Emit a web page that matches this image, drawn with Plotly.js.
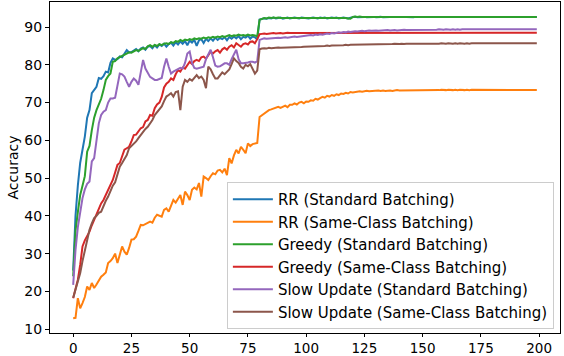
<!DOCTYPE html>
<html>
<head>
<meta charset="utf-8">
<script src="https://cdn.plot.ly/plotly-3.0.1.min.js"></script>
<style>html,body{margin:0;padding:0;background:#fff;}#chart{width:564px;height:356px;}</style>
</head>
<body>
<div id="chart"></div>
<script>
const epochs = Array.from({length: 200}, (_, i) => i);

const seriesNames = [
  "RR (Standard Batching)",
  "RR (Same-Class Batching)",
  "Greedy (Standard Batching)",
  "Greedy (Same-Class Batching)",
  "Slow Update (Standard Batching)",
  "Slow Update (Same-Class Batching)"
];

const rrStandard = [
  25.5,40.0,48.0,54.0,57.5,61.0,66.0,68.0,72.5,73.5,
  74.2,76.5,76.3,77.0,78.2,78.0,80.5,81.7,81.3,81.5,
  82.2,82.0,82.8,83.9,83.3,83.4,83.8,84.2,83.6,84.3,
  84.6,84.0,84.8,85.0,84.4,85.2,84.6,85.4,85.0,85.6,
  84.8,85.5,85.9,85.1,86.0,85.4,86.2,85.6,86.3,85.2,
  86.4,85.9,86.6,85.0,86.5,86.8,85.8,86.9,86.3,87.0,
  86.4,87.2,86.6,87.1,86.8,87.3,86.5,87.4,86.9,87.5,
  87.0,87.6,86.8,87.4,87.2,87.7,86.9,87.5,87.3,86.7,
  92.0,92.2,92.3,92.2,92.4,92.3,92.5,92.3,92.4,92.5,
  92.2,92.4,92.5,92.3,92.4,92.5,92.4,92.3,92.5,92.4,
  92.5,92.3,92.4,92.5,92.4,92.3,92.5,92.4,92.5,92.3,
  92.4,92.5,92.4,92.5,92.3,92.4,92.5,92.4,92.3,92.5,
  92.6,92.7,92.6,92.7,92.6,92.7,92.6,92.7,92.6,92.7,
  92.6,92.7,92.7,92.6,92.7,92.6,92.7,92.7,92.6,92.7,
  92.7,92.6,92.7,92.7,92.6,92.7,92.6,92.7,92.7,92.6,
  92.7,92.7,92.6,92.7,92.6,92.7,92.7,92.6,92.7,92.7,
  92.6,92.7,92.7,92.6,92.7,92.6,92.7,92.7,92.6,92.7,
  92.7,92.6,92.7,92.6,92.7,92.7,92.6,92.7,92.7,92.6,
  92.7,92.6,92.7,92.7,92.6,92.7,92.7,92.6,92.7,92.6,
  92.7,92.7,92.6,92.7,92.6,92.7,92.7,92.6,92.7,92.7
];

const rrSameClass = [
  12.9,13.0,18.2,15.5,16.9,18.5,21.3,20.4,22.2,20.9,
  21.8,23.0,23.9,24.4,25.0,27.5,28.0,28.8,30.0,27.5,
  29.5,31.9,30.5,29.7,31.5,33.7,33.8,34.5,36.0,37.6,
  37.5,37.8,38.0,38.5,38.2,39.5,40.3,40.0,39.8,41.6,
  42.0,41.1,42.5,44.2,43.5,44.7,45.5,42.9,46.4,45.5,
  44.2,46.9,47.5,47.0,48.7,45.1,50.4,50.0,49.5,50.5,
  51.3,51.0,52.0,52.2,51.5,52.5,50.8,55.3,53.9,56.0,
  57.5,56.5,58.3,57.5,56.6,59.2,58.5,59.0,59.2,59.3,
  66.2,66.7,67.0,67.5,68.0,68.2,68.5,68.7,68.9,68.6,
  69.0,69.2,68.8,69.4,69.4,69.8,69.5,70.0,70.2,69.8,
  70.3,70.2,70.6,70.5,71.0,70.8,71.2,71.5,71.3,71.8,
  71.6,72.0,71.8,72.2,72.0,72.4,72.3,72.6,72.4,72.8,
  72.7,72.8,72.9,73.0,72.9,73.0,73.1,73.0,73.1,73.0,
  73.1,73.2,73.1,73.2,73.1,73.2,73.2,73.1,73.2,73.3,
  73.2,73.2,73.3,73.2,73.3,73.2,73.3,73.3,73.2,73.3,
  73.3,73.2,73.3,73.3,73.3,73.2,73.3,73.3,73.4,73.3,
  73.3,73.4,73.3,73.3,73.4,73.3,73.4,73.3,73.3,73.4,
  73.3,73.4,73.4,73.3,73.4,73.3,73.4,73.4,73.3,73.4,
  73.4,73.3,73.4,73.4,73.3,73.4,73.4,73.3,73.4,73.4,
  73.3,73.4,73.4,73.3,73.4,73.4,73.3,73.4,73.4,73.3
];

const greedyStandard = [
  24.0,36.0,41.0,45.5,48.0,50.5,57.0,58.5,62.7,66.0,
  68.0,69.4,71.0,73.3,76.0,77.0,77.7,80.8,81.0,81.7,
  82.0,82.3,82.6,82.8,83.3,83.2,83.5,83.9,83.7,84.1,
  84.4,84.2,84.9,85.2,84.8,85.3,85.0,85.5,85.2,85.6,
  85.7,85.5,86.0,85.8,86.3,86.1,86.6,86.3,86.7,86.5,
  86.8,86.6,87.0,86.8,87.0,86.9,87.2,87.0,87.3,87.1,
  87.4,87.2,87.5,87.3,87.6,87.4,87.6,87.9,87.6,87.8,
  87.7,88.0,87.8,87.9,87.7,88.0,87.8,87.9,87.8,87.5,
  91.9,92.2,92.4,92.3,92.5,92.4,92.5,92.4,92.5,92.4,
  92.4,92.5,92.5,92.4,92.4,92.5,92.5,92.4,92.4,92.5,
  92.4,92.4,92.5,92.5,92.4,92.4,92.4,92.5,92.5,92.4,
  92.4,92.4,92.5,92.4,92.4,92.5,92.4,92.4,92.3,92.2,
  92.7,92.8,92.7,92.8,92.7,92.7,92.8,92.7,92.8,92.7,
  92.7,92.8,92.7,92.7,92.8,92.7,92.8,92.7,92.7,92.8,
  92.7,92.7,92.8,92.7,92.8,92.7,92.7,92.8,92.7,92.7,
  92.8,92.7,92.7,92.8,92.7,92.8,92.7,92.7,92.8,92.7,
  92.7,92.8,92.7,92.8,92.7,92.7,92.8,92.7,92.7,92.8,
  92.7,92.7,92.8,92.7,92.8,92.7,92.7,92.8,92.7,92.7,
  92.8,92.7,92.7,92.8,92.7,92.8,92.7,92.7,92.8,92.7,
  92.7,92.8,92.7,92.7,92.8,92.7,92.8,92.7,92.7,92.7
];

const greedySameClass = [
  18.2,20.5,23.1,27.0,31.9,33.5,34.5,35.8,37.5,38.9,
  40.5,42.0,43.3,44.2,45.5,46.9,48.5,49.5,51.5,53.5,
  54.0,55.5,57.5,57.9,58.3,59.7,61.4,61.5,62.3,63.2,
  63.5,65.0,65.4,66.7,66.5,68.5,69.5,70.0,71.5,74.0,
  75.0,75.5,76.4,76.0,77.5,78.6,78.2,79.3,79.0,79.8,
  80.8,80.2,81.0,81.3,81.0,82.0,82.2,81.6,82.6,83.5,
  83.0,83.6,83.9,83.2,84.1,84.5,84.0,84.8,85.2,84.6,
  85.7,85.2,84.8,85.5,85.7,85.4,86.1,86.2,85.7,86.8,
  88.1,88.2,88.3,88.2,88.3,88.3,88.4,88.3,88.4,88.4,
  88.3,88.4,88.5,88.4,88.4,88.5,88.4,88.5,88.4,88.5,
  88.5,88.4,88.5,88.5,88.4,88.5,88.5,88.4,88.5,88.5,
  88.4,88.5,88.5,88.4,88.5,88.5,88.4,88.5,88.5,88.4,
  88.5,88.5,88.4,88.5,88.5,88.4,88.5,88.5,88.4,88.5,
  88.5,88.4,88.5,88.5,88.4,88.5,88.5,88.5,88.4,88.5,
  88.5,88.4,88.5,88.5,88.5,88.4,88.5,88.5,88.4,88.5,
  88.5,88.5,88.4,88.5,88.5,88.4,88.5,88.5,88.5,88.4,
  88.5,88.5,88.4,88.5,88.5,88.5,88.4,88.5,88.5,88.4,
  88.5,88.5,88.5,88.4,88.5,88.5,88.4,88.5,88.5,88.5,
  88.4,88.5,88.5,88.5,88.4,88.5,88.5,88.4,88.5,88.5,
  88.5,88.4,88.5,88.5,88.5,88.4,88.5,88.5,88.5,88.5
];

const slowStandard = [
  21.7,31.0,37.0,41.5,44.7,47.0,48.5,49.1,54.4,55.3,
  60.5,64.5,66.7,67.6,68.0,70.0,71.1,71.1,71.3,74.2,
  77.7,77.5,76.9,75.5,74.2,75.5,76.4,75.8,74.7,78.0,
  81.3,79.0,77.7,76.8,76.4,76.0,76.0,76.2,76.5,79.5,
  81.7,79.5,77.7,78.2,78.6,78.8,79.2,79.0,80.5,83.0,
  83.5,80.5,79.2,79.0,79.2,79.5,79.5,81.5,83.0,84.0,
  82.0,79.8,79.5,79.6,80.0,80.4,80.4,80.0,81.5,83.0,
  84.0,81.5,80.4,80.4,80.4,80.6,80.8,80.8,80.6,81.0,
  86.6,86.9,87.0,86.9,87.0,87.1,87.0,87.1,87.2,87.1,
  87.2,87.3,87.2,87.3,87.4,87.5,87.4,87.5,87.6,87.7,
  87.8,87.7,87.9,87.8,88.0,87.9,88.1,88.0,88.2,88.3,
  88.2,88.4,88.3,88.5,88.6,88.5,88.7,88.6,88.8,88.7,
  88.8,88.9,88.8,88.9,89.0,88.9,89.0,89.1,89.0,89.1,
  89.1,89.0,89.1,89.2,89.1,89.2,89.1,89.2,89.2,89.1,
  89.2,89.2,89.3,89.2,89.2,89.3,89.2,89.3,89.2,89.3,
  89.3,89.2,89.3,89.3,89.2,89.3,89.3,89.4,89.3,89.3,
  89.4,89.3,89.3,89.4,89.3,89.4,89.3,89.4,89.4,89.3,
  89.4,89.3,89.4,89.4,89.3,89.4,89.4,89.3,89.4,89.4,
  89.3,89.4,89.4,89.3,89.4,89.4,89.3,89.4,89.4,89.3,
  89.4,89.4,89.3,89.4,89.4,89.3,89.4,89.4,89.3,89.4
];

const slowSameClass = [
  18.3,20.4,22.5,24.8,28.0,31.0,33.5,36.3,38.0,39.4,
  40.0,40.8,41.1,42.8,44.0,45.1,46.8,48.0,48.9,51.0,
  53.0,54.0,55.0,56.1,57.9,58.5,59.2,59.7,60.6,61.5,
  62.3,63.0,63.6,64.5,65.4,66.7,67.5,68.5,69.0,70.4,
  71.6,72.0,72.5,71.6,72.8,73.0,68.0,74.2,76.0,75.5,
  76.2,75.8,76.5,77.3,76.5,76.9,76.0,73.8,79.5,78.8,
  77.5,76.4,76.4,77.2,78.0,77.5,78.3,78.8,80.2,81.7,
  81.0,80.5,79.5,79.0,80.0,79.6,80.2,79.0,77.7,78.5,
  84.1,84.3,84.4,84.3,84.5,84.4,84.5,84.5,84.6,84.5,
  84.5,84.6,84.5,84.6,84.6,84.7,84.6,84.7,84.7,84.8,
  84.8,84.9,84.8,84.9,84.9,85.0,84.9,85.0,85.0,85.1,
  85.0,85.1,85.1,85.2,85.1,85.2,85.2,85.3,85.2,85.3,
  85.3,85.3,85.4,85.3,85.4,85.4,85.3,85.4,85.4,85.5,
  85.4,85.5,85.4,85.5,85.5,85.4,85.5,85.5,85.6,85.5,
  85.5,85.6,85.5,85.6,85.6,85.5,85.6,85.6,85.5,85.6,
  85.6,85.5,85.6,85.6,85.6,85.5,85.6,85.6,85.7,85.6,
  85.6,85.7,85.6,85.6,85.7,85.6,85.7,85.6,85.6,85.7,
  85.6,85.7,85.7,85.6,85.7,85.6,85.7,85.7,85.6,85.7,
  85.7,85.6,85.7,85.7,85.6,85.7,85.7,85.6,85.7,85.7,
  85.6,85.7,85.7,85.6,85.7,85.7,85.6,85.7,85.7,85.7
];

const xTicks = [0, 25, 50, 75, 100, 125, 150, 175, 200];
const yTicks = [10, 20, 30, 40, 50, 60, 70, 80, 90];

const allSeries = [rrStandard, rrSameClass, greedyStandard, greedySameClass, slowStandard, slowSameClass];
const colors = ["#1f77b4", "#ff7f0e", "#2ca02c", "#d62728", "#9467bd", "#8c564b"];

const traces = allSeries.map((vals, i) => ({
  x: epochs,
  y: vals,
  type: "scatter",
  mode: "lines",
  name: seriesNames[i],
  legendgroup: "g" + i,
  line: {color: colors[i], width: 2}
}));

const fontFamily = "DejaVu Sans, sans-serif";

const layout = {
  width: 564,
  height: 356,
  margin: {l: 50, r: 4, t: 2, b: 23, pad: 0},
  paper_bgcolor: "#ffffff",
  plot_bgcolor: "#ffffff",
  font: {family: fontFamily, size: 14, color: "#000"},
  showlegend: true,
  legend: {
    x: 0.988, xanchor: "right",
    y: 0.012, yanchor: "bottom",
    bgcolor: "rgba(255,255,255,0.85)",
    bordercolor: "#cccccc",
    borderwidth: 1,
    font: {family: fontFamily, size: 15, color: "#000"},
    traceorder: "grouped",
    tracegroupgap: 0,
    itemwidth: 40
  },
  xaxis: {
    range: [-9.95, 208.95],
    tickvals: xTicks,
    ticktext: xTicks.map(String),
    showgrid: false,
    zeroline: false,
    showline: true,
    mirror: true,
    linecolor: "#000",
    linewidth: 1,
    ticks: "outside",
    ticklen: 3,
    tickwidth: 1,
    tickcolor: "#000",
    tickfont: {family: fontFamily, size: 13.5, color: "#000"}
  },
  yaxis: {
    range: [8.97, 96.64],
    tickvals: yTicks,
    ticktext: yTicks.map(String),
    showgrid: false,
    zeroline: false,
    showline: true,
    mirror: true,
    linecolor: "#000",
    linewidth: 1,
    ticks: "outside",
    ticklen: 4,
    tickwidth: 1,
    tickcolor: "#000",
    tickfont: {family: fontFamily, size: 14, color: "#000"},
    title: {text: "Accuracy", font: {family: fontFamily, size: 14, color: "#000"}, standoff: 2}
  }
};

Plotly.newPlot("chart", traces, layout, {displayModeBar: false, staticPlot: true});
</script>
</body>
</html>
